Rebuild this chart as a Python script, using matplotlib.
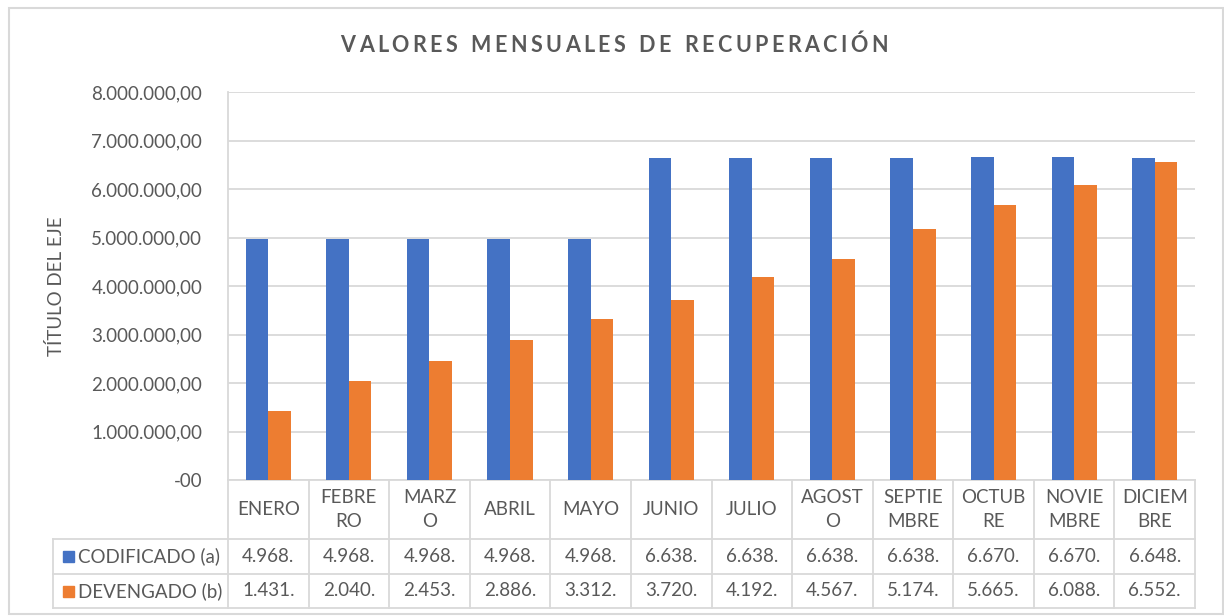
import matplotlib.pyplot as plt
from matplotlib.patches import Rectangle
from matplotlib.transforms import blended_transform_factory

plt.rcParams['font.family'] = ['Lato', 'DejaVu Sans']

# datos
meses = ["ENERO", "FEBRE\nRO", "MARZ\nO", "ABRIL", "MAYO", "JUNIO", "JULIO",
         "AGOST\nO", "SEPTIE\nMBRE", "OCTUB\nRE", "NOVIE\nMBRE", "DICIEM\nBRE"]
codificado = [4968000, 4968000, 4968000, 4968000, 4968000, 6638000, 6638000,
              6638000, 6638000, 6670000, 6670000, 6648000]
devengado = [1431000, 2040000, 2453000, 2886000, 3312000, 3720000, 4192000,
             4567000, 5174000, 5665000, 6088000, 6552000]
series = ["CODIFICADO (a)", "DEVENGADO (b)"]
yticks = [0, 1000000, 2000000, 3000000, 4000000, 5000000, 6000000, 7000000, 8000000]
ytick_labels = ["-00", "1.000.000,00", "2.000.000,00", "3.000.000,00", "4.000.000,00",
                "5.000.000,00", "6.000.000,00", "7.000.000,00", "8.000.000,00"]
titulo = "VALORES MENSUALES DE RECUPERACIÓN"

AZUL = "#4472C4"
NARANJA = "#ED7D31"
GRIS_TXT = "#595959"
GRIS_LIN = "#D9D9D9"
FS = 13.5

W, H = 1224, 616
fig = plt.figure(figsize=(W / 100, H / 100), dpi=100)

def px(x, y):
    # pixeles (desde arriba-izq) -> fraccion de figura
    return x / W, 1 - y / H

# borde exterior del grafico
fig.patches.append(Rectangle(px(8.5, 614), (1222.5 - 8.5) / W, (614 - 7.5) / H,
                             transform=fig.transFigure, fill=False,
                             edgecolor=GRIS_LIN, linewidth=1.5))

x0, x1, ytop, ybot = 228, 1195, 92, 480
ax = fig.add_axes([x0 / W, 1 - ybot / H, (x1 - x0) / W, (ybot - ytop) / H])

n = len(meses)
xs = list(range(n))
bw = 0.28
ax.bar([i - bw / 2 for i in xs], codificado, width=bw, color=AZUL, zorder=3)
ax.bar([i + bw / 2 for i in xs], devengado, width=bw, color=NARANJA, zorder=3)

ax.set_xlim(-0.5, n - 0.5)
ax.set_ylim(0, 8000000)
ax.set_yticks(yticks)
ax.set_yticklabels(ytick_labels)
ax.tick_params(axis='y', length=0, pad=18.5, labelsize=FS, labelcolor=GRIS_TXT)
ax.set_xticks([])
ax.grid(axis='y', color=GRIS_LIN, linewidth=1.3, zorder=0)
for s in ["top", "right", "bottom"]:
    ax.spines[s].set_visible(False)
ax.spines["left"].set_color(GRIS_LIN)
ax.spines["left"].set_linewidth(1.3)

fig.text(56 / W, 1 - 286 / H, "TÍTULO DEL EJE", rotation=90, ha='center', va='center',
         fontsize=FS, color=GRIS_TXT)

# tabla de datos
def ay(y):
    return (ybot - y) / (ybot - ytop)

tr = blended_transform_factory(ax.transData, ax.transAxes)
tra = ax.transAxes
y_h0, y_h1, y_r1, y_r2 = 480, 539, 574, 608
left_ax = (53 - x0) / (x1 - x0)
lk = dict(color=GRIS_LIN, linewidth=1.3, clip_on=False)

for yy in (y_h1, y_r1, y_r2):
    ax.plot([left_ax, 1], [ay(yy), ay(yy)], transform=tra, **lk)
ax.plot([0, 1], [ay(y_h0), ay(y_h0)], transform=tra, **lk)
ax.plot([left_ax, left_ax], [ay(y_h1), ay(y_r2)], transform=tra, **lk)
for i in range(n + 1):
    ax.plot([i - 0.5, i - 0.5], [ay(y_h0), ay(y_r2)], transform=tr, **lk)

def corto(v):
    s = f"{v:,.2f}".replace(",", "X").replace(".", ",").replace("X", ".")
    return s[:6]

for i, m in enumerate(meses):
    ax.text(i, ay((y_h0 + y_h1) / 2), m, transform=tr, ha='center', va='center',
            fontsize=FS, color=GRIS_TXT, linespacing=1.55)
    ax.text(i, ay((y_h1 + y_r1) / 2), corto(codificado[i]), transform=tr, ha='center',
            va='center', fontsize=FS, color=GRIS_TXT)
    ax.text(i, ay((y_r1 + y_r2) / 2), corto(devengado[i]), transform=tr, ha='center',
            va='center', fontsize=FS, color=GRIS_TXT)

for k, (nombre, col) in enumerate(zip(series, [AZUL, NARANJA])):
    yc = (y_h1 + y_r1) / 2 if k == 0 else (y_r1 + y_r2) / 2
    fig.patches.append(Rectangle(px(63, yc + 5.5), 11 / W, 11 / H,
                                 transform=fig.transFigure, color=col))
    fig.text(78 / W, 1 - yc / H, nombre, ha='left', va='center',
             fontsize=FS, color=GRIS_TXT)

# titulo con espaciado entre letras
fig.canvas.draw()
r = fig.canvas.get_renderer()
tam = 15.5
esp = 3.4
anchos = []
for ch in titulo:
    t = fig.text(0, 0, ch if ch != " " else "n", fontsize=tam, fontweight='bold')
    w = t.get_window_extent(r).width
    if ch == " ":
        w *= 0.55
    anchos.append(w)
    t.remove()
total = sum(anchos) + esp * (len(titulo) - 1)
xc = 614 - total / 2
for ch, w in zip(titulo, anchos):
    if ch != " ":
        fig.text(xc / W, 1 - 45 / H, ch, fontsize=tam, fontweight='bold',
                 color=GRIS_TXT, ha='left', va='center')
    xc += w + esp

fig.savefig("out.png", dpi=100)
